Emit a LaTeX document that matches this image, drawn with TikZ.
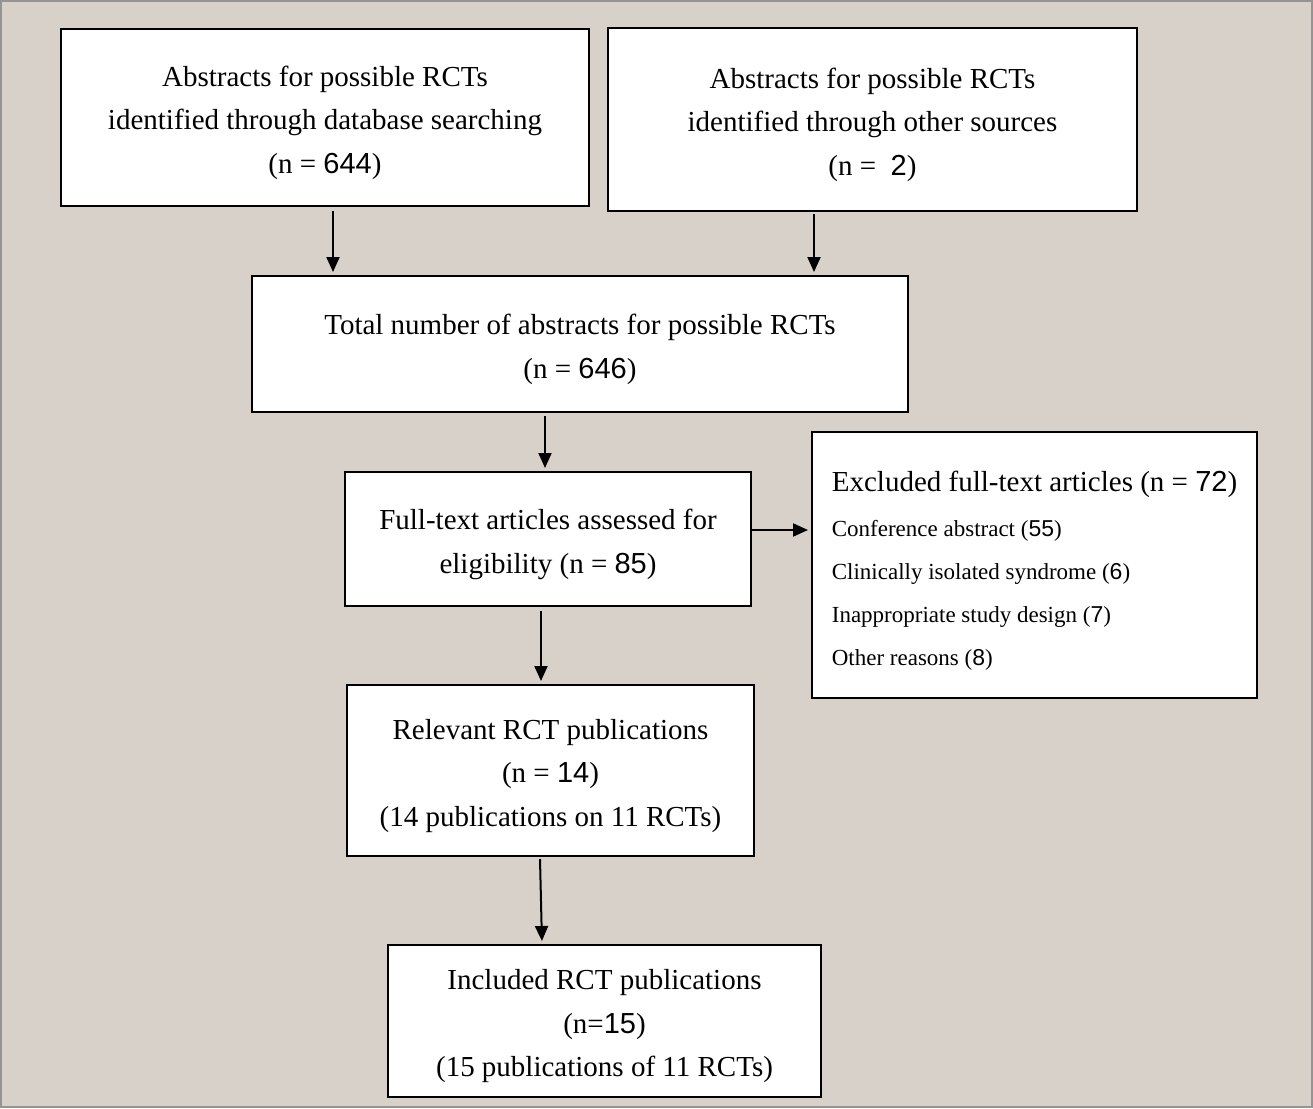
\documentclass[tikz,border=0pt]{standalone}
\usepackage{fontspec}
\setmainfont{Liberation Serif}
\newfontfamily\numfont{Liberation Sans}
\newcommand{\nmb}[1]{{\numfont #1}}
\newcommand{\lowr}{\rule{0pt}{31pt}}
\usetikzlibrary{arrows.meta}
\definecolor{paper}{RGB}{216,209,202}
\definecolor{frame}{RGB}{150,148,146}
\tikzset{box/.style={draw=black, line width=2pt, fill=white, align=center, inner sep=0pt, font=\fontsize{29}{43.5}\selectfont}}
\tikzset{leftbox/.style={box, align=left, font=\fontsize{23}{43}\selectfont}}
\tikzset{arr/.style={line width=2pt, shorten >=3pt, -{Triangle[length=15pt,width=13pt]}}}
\newcommand{\bigline}[1]{{\fontsize{29}{43}\selectfont #1}}

\begin{document}
\begin{tikzpicture}[x=1pt,y=-1pt]
\useasboundingbox (0,0) rectangle (1313,1108);
\fill[paper] (0,0) rectangle (1313,1108);
\draw[frame, line width=2pt] (1,1) rectangle (1312,1107);
%sources
\node (db) at (325,117.5)[box, minimum width=528, minimum height=177]{\lowr Abstracts for possible RCTs\\identified through database searching\\(n = \nmb{644})};
\node (other) at (872.5,119.5)[box, minimum width=529, minimum height=183]{\lowr Abstracts for possible RCTs\\identified through other sources\\(n = \ \nmb{2})};
%screening
\node (total) at (580,344)[box, minimum width=656, minimum height=136]{\lowr Total number of abstracts for possible RCTs\\(n = \nmb{646})};
\node (full) at (548,539)[box, minimum width=406, minimum height=134]{\lowr Full-text articles assessed for\\eligibility (n = \nmb{85})};
\node (excl) at (1034.5,565)[leftbox, minimum width=445, minimum height=266]{\lowr\bigline{Excluded full-text articles (n = \nmb{72})}\\[2pt]Conference abstract (\nmb{55})\\Clinically isolated syndrome (\nmb{6})\\Inappropriate study design (\nmb{7})\\Other reasons (\nmb{8})};
%included
\node (rel) at (550.5,770.5)[box, minimum width=407, minimum height=171]{\lowr Relevant RCT publications\\(n = \nmb{14})\\(14 publications on 11 RCTs)};
\node (inc) at (604.5,1021)[box, minimum width=433, minimum height=152]{\lowr Included RCT publications\\(n=\nmb{15})\\(15 publications of 11 RCTs)};

\draw[arr] ([xshift=8,yshift=-4]db.south) -- ([xshift=8]db.south |- total.north);
\draw[arr] ([xshift=-58.5,yshift=-2]other.south) -- ([xshift=-58.5]other.south |- total.north);
\draw[arr] ([xshift=-35,yshift=-3]total.south) -- ([xshift=-35]total.south |- full.north);
\draw[arr] ([yshift=9]full.east) -- ([yshift=9]full.east -| excl.west);
\draw[arr] ([xshift=-7,yshift=-4]full.south) -- ([xshift=-7]full.south |- rel.north);
\draw[arr] ([xshift=-10.5,yshift=-2]rel.south) -- ([xshift=-62.5]inc.north);
\end{tikzpicture}
\end{document}
